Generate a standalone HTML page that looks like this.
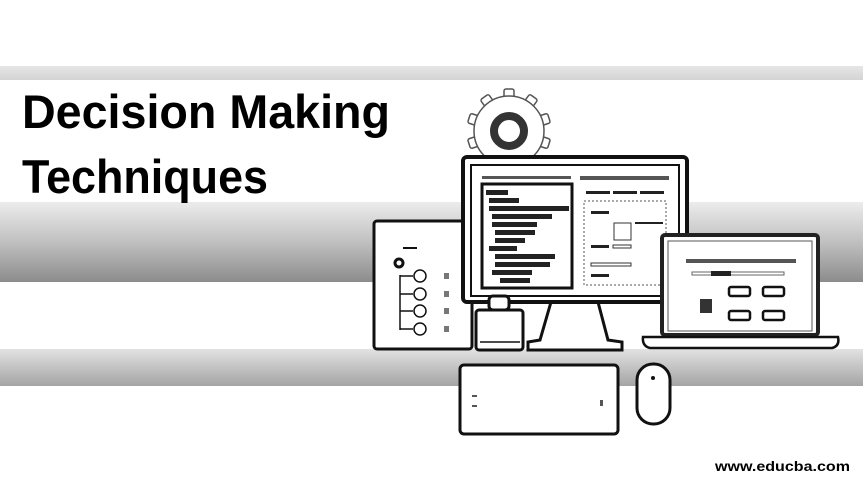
<!DOCTYPE html>
<html><head><meta charset="utf-8"><style>
html,body{margin:0;padding:0;background:#fff;width:863px;height:485px;overflow:hidden}
</style></head><body>
<svg width="863" height="485" viewBox="0 0 863 485" xmlns="http://www.w3.org/2000/svg" font-family="Liberation Sans, sans-serif">
<defs>
<linearGradient id="b1" x1="0" y1="0" x2="0" y2="1"><stop offset="0" stop-color="#e6e6e6"/><stop offset="1" stop-color="#d4d4d4"/></linearGradient>
<linearGradient id="b2" x1="0" y1="0" x2="0" y2="1"><stop offset="0" stop-color="#ececec"/><stop offset="0.5" stop-color="#c0c0c0"/><stop offset="1" stop-color="#8c8c8c"/></linearGradient>
<linearGradient id="b3" x1="0" y1="0" x2="0" y2="1"><stop offset="0" stop-color="#e2e2e2"/><stop offset="1" stop-color="#a4a4a4"/></linearGradient>
</defs>
<rect x="0" y="66" width="863" height="14" fill="url(#b1)"/>
<rect x="0" y="202" width="863" height="80" fill="url(#b2)"/>
<rect x="0" y="349" width="863" height="37" fill="url(#b3)"/>
<text x="22" y="128" font-size="47" font-weight="bold" textLength="368" lengthAdjust="spacingAndGlyphs">Decision Making</text>
<text x="22" y="193" font-size="47" font-weight="bold" textLength="246" lengthAdjust="spacingAndGlyphs">Techniques</text>

<!-- gear -->
<g transform="translate(509,131)" fill="#fff" stroke="#555" stroke-width="1.5">
<g id="t"><rect x="-5" y="-42" width="10" height="10" rx="2"/></g>
<use href="#t" transform="rotate(36)"/><use href="#t" transform="rotate(72)"/><use href="#t" transform="rotate(108)"/><use href="#t" transform="rotate(144)"/><use href="#t" transform="rotate(180)"/><use href="#t" transform="rotate(216)"/><use href="#t" transform="rotate(252)"/><use href="#t" transform="rotate(288)"/><use href="#t" transform="rotate(324)"/>
<circle r="35"/>
<circle r="15" stroke="#333" stroke-width="8"/>
</g>
<!-- left panel -->
<rect x="374" y="221" width="98" height="128" rx="3" fill="#fff" stroke="#111" stroke-width="3"/>
<rect x="403" y="247" width="14" height="2" fill="#111"/>
<circle cx="399" cy="263" r="4" fill="#fff" stroke="#111" stroke-width="3"/>
<path d="M400 275 V330" stroke="#111" stroke-width="1.5"/>
<g fill="#fff" stroke="#111" stroke-width="1.5">
<circle cx="420" cy="276" r="6"/><circle cx="420" cy="294" r="6"/><circle cx="420" cy="311" r="6"/><circle cx="420" cy="329" r="6"/>
</g>
<g stroke="#111" stroke-width="1.5"><path d="M400 276h13M400 294h13M400 311h13M400 329h13"/></g>
<g fill="#777"><rect x="444" y="273" width="5" height="6"/><rect x="444" y="291" width="5" height="6"/><rect x="444" y="308" width="5" height="6"/><rect x="444" y="326" width="5" height="6"/></g>
<!-- monitor stand -->
<path d="M551 302 L540 340 L528 342 L528 350 L622 350 L622 342 L608 340 L598 302 Z" fill="#fff" stroke="#111" stroke-width="3"/>
<!-- monitor -->
<rect x="463" y="157" width="224" height="145" rx="4" fill="#fff" stroke="#111" stroke-width="4"/>
<rect x="471" y="165" width="208" height="131" fill="#fff" stroke="#111" stroke-width="2"/>
<rect x="482" y="176" width="89" height="3" fill="#555"/>
<rect x="580" y="176" width="89" height="4" fill="#555"/>
<rect x="482" y="184" width="90" height="104" fill="#fff" stroke="#111" stroke-width="3"/>
<g fill="#222">
<rect x="486" y="190" width="22" height="5"/><rect x="489" y="198" width="30" height="5"/><rect x="489" y="206" width="80" height="5"/><rect x="492" y="214" width="60" height="5"/><rect x="492" y="222" width="45" height="5"/><rect x="495" y="230" width="40" height="5"/><rect x="495" y="238" width="30" height="5"/><rect x="489" y="246" width="28" height="5"/><rect x="495" y="254" width="60" height="5"/><rect x="495" y="262" width="55" height="5"/><rect x="492" y="270" width="40" height="5"/><rect x="500" y="278" width="30" height="5"/>
</g>
<g fill="#222"><rect x="586" y="191" width="24" height="3"/><rect x="613" y="191" width="24" height="3"/><rect x="640" y="191" width="24" height="3"/>
<rect x="591" y="211" width="18" height="3"/><rect x="591" y="245" width="18" height="3"/><rect x="591" y="274" width="18" height="3"/><rect x="635" y="222" width="28" height="2"/></g>
<rect x="584" y="201" width="82" height="84" fill="none" stroke="#555" stroke-dasharray="2 2"/>
<rect x="614" y="223" width="17" height="17" fill="#fff" stroke="#333"/>
<rect x="613" y="245" width="18" height="3" fill="none" stroke="#333"/>
<rect x="591" y="263" width="40" height="3" fill="none" stroke="#333"/>
<!-- lock -->
<rect x="489" y="296" width="20" height="14" rx="4" fill="#fff" stroke="#111" stroke-width="3"/>
<rect x="476" y="310" width="47" height="40" rx="3" fill="#fff" stroke="#111" stroke-width="3"/>
<path d="M480 342h40" stroke="#111" stroke-width="1.5"/>
<!-- laptop -->
<rect x="662" y="235" width="156" height="100" rx="3" fill="#fff" stroke="#222" stroke-width="4"/>
<rect x="668" y="241" width="144" height="90" fill="#fff" stroke="#555" stroke-width="1"/>
<rect x="686" y="259" width="110" height="4" fill="#555"/>
<rect x="692" y="272" width="92" height="3" fill="none" stroke="#666"/>
<rect x="711" y="271" width="20" height="5" fill="#222"/>
<rect x="700" y="299" width="12" height="14" fill="#333"/>
<g fill="#fff" stroke="#111" stroke-width="2.5"><rect x="729" y="287" width="21" height="9" rx="2"/><rect x="763" y="287" width="21" height="9" rx="2"/><rect x="729" y="311" width="21" height="9" rx="2"/><rect x="763" y="311" width="21" height="9" rx="2"/></g>
<path d="M643 337 H838 Q840 346 832 348 H650 Q642 346 643 337 Z" fill="#fff" stroke="#111" stroke-width="2.5"/>
<!-- keyboard -->
<rect x="460" y="365" width="158" height="69" rx="4" fill="#fff" stroke="#111" stroke-width="3"/>
<g fill="#555"><rect x="472" y="395" width="5" height="2"/><rect x="472" y="405" width="5" height="2"/><rect x="600" y="400" width="3" height="6"/></g>
<!-- mouse -->
<rect x="637" y="364" width="33" height="60" rx="16" fill="#fff" stroke="#111" stroke-width="3"/>
<circle cx="653" cy="378" r="2" fill="#111"/>
<text x="715" y="471" font-size="14" font-weight="bold" textLength="135" lengthAdjust="spacingAndGlyphs">www.educba.com</text>
</svg>
</body></html>
